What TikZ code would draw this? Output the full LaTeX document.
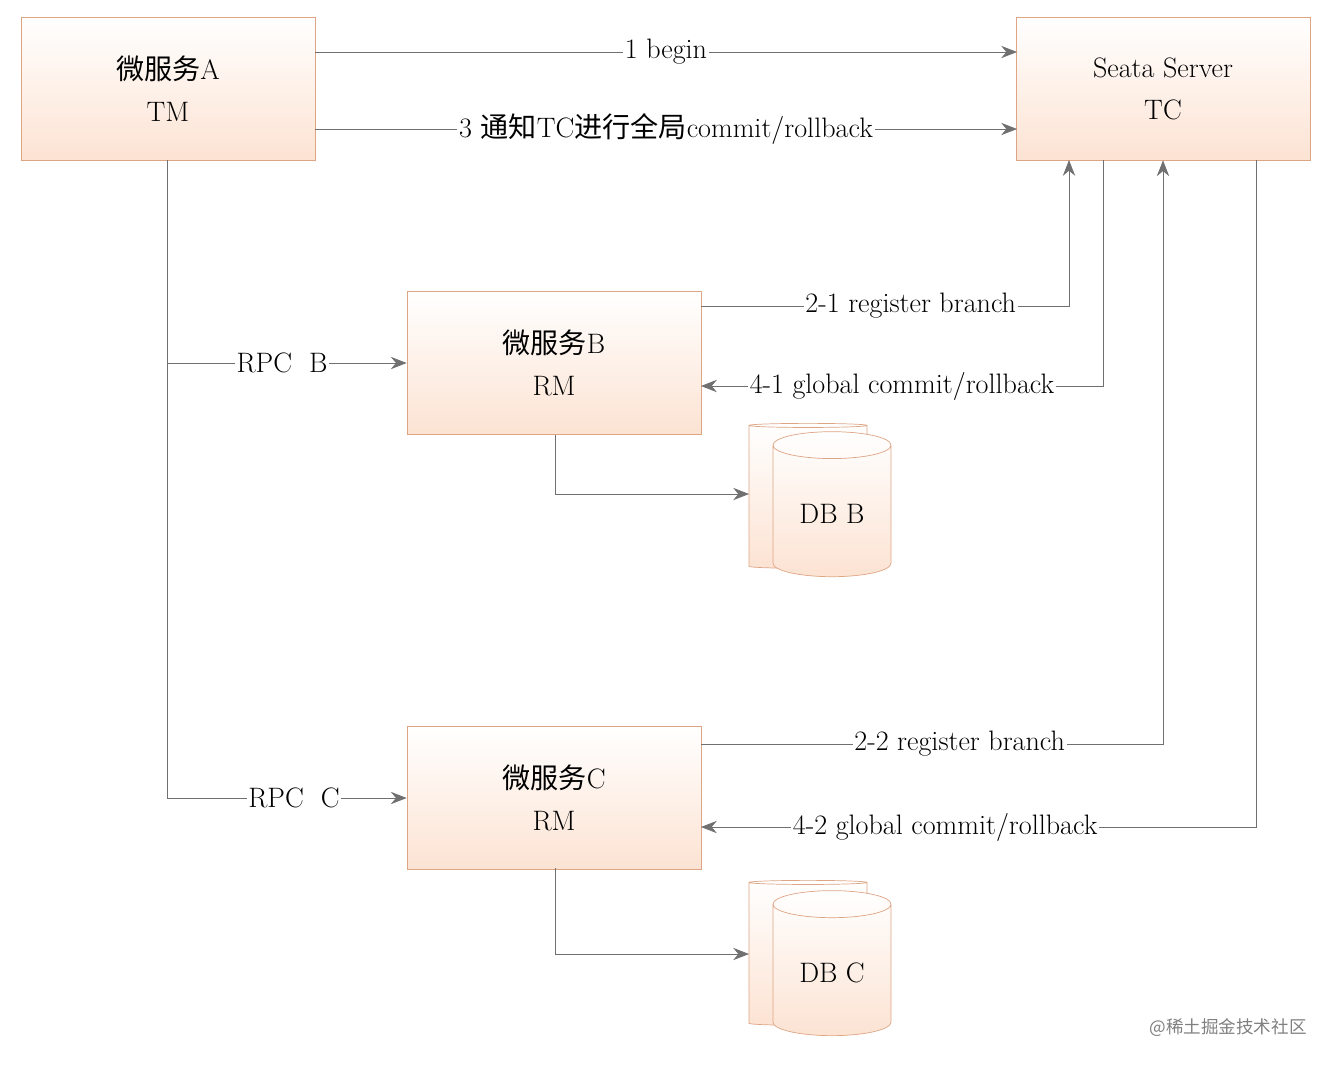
\documentclass[tikz,border=0pt]{standalone}
\usepackage{fontspec}
\newfontfamily\cjk{Noto Sans CJK SC}
\usetikzlibrary{shapes.geometric,arrows.meta}
\definecolor{bd}{HTML}{DDA584}
\definecolor{bt}{HTML}{FCE3D3}
\definecolor{ln}{HTML}{707070}
\begin{document}
\begin{tikzpicture}[x=0.02cm,y=-0.02cm,
 box/.style={draw=bd,top color=white,bottom color=bt,minimum width=294*0.02cm,minimum height=143*0.02cm,align=center,font=\fontsize{16}{24}\selectfont},
 db/.style={cylinder,shape border rotate=90,draw=bd,top color=white,bottom color=bt,minimum width=118*0.02cm,minimum height=145*0.02cm,aspect=0.35,font=\fontsize{16}{18}\selectfont},
 ar/.style={draw=ln,-{Stealth[length=9pt,width=7pt]}},
 lb/.style={fill=white,inner sep=1pt,font=\fontsize{16}{18}\selectfont}]
\useasboundingbox (0,0) rectangle (1334,1066);
\node[box] (A) at (168,88.5) {{\cjk 微服务}A\\TM};
\node[box] (T) at (1163,88.5) {Seata Server\\TC};
\node[box] (B) at (554,363) {{\cjk 微服务}B\\RM};
\node[box] (C) at (554,797.5) {{\cjk 微服务}C\\RM};
\node[db] (bb) at (808,497.5) {};
\node[db] (bf) at (832,514) {DB B};
\node[db] (cb) at (808,954.5) {};
\node[db] (cf) at (832,973) {DB C};
\coordinate (a1) at (315,52); \coordinate (t1) at (1017,52);
\coordinate (a3) at (315,129); \coordinate (t3) at (1017,129);
\draw[ar] (a1) -- node[lb]{1 begin} (t1);
\draw[ar] (a3) -- node[lb]{3 {\cjk 通知}TC{\cjk 进行全局}commit/rollback} (t3);
\coordinate (ab) at (167,160); \coordinate (k1) at (167,363); \coordinate (k2) at (167,798);
\draw[ar] (ab) -- (k1) -- node[lb,pos=0.48]{RPC\ \ B} (B.west);
\draw[ar] (k1) -- (k2) -- node[lb,pos=0.53]{RPC\ \ C} (C.west|-k2);
\coordinate (b21) at (701,306); \coordinate (c21) at (1069,306); \coordinate (t21) at (1069,160);
\draw[ar] (b21) -- node[lb,pos=0.57]{2-1 register branch} (c21) -- (t21);
\coordinate (t41) at (1103,160); \coordinate (c41) at (1103,386); \coordinate (b41) at (701,386);
\draw[ar] (t41) -- (c41) -- node[lb,pos=0.5]{4-1 global commit/rollback} (b41);
\coordinate (b22) at (701,744); \coordinate (c22) at (1163,744);
\draw[ar] (b22) -- node[lb,pos=0.56]{2-2 register branch} (c22) -- (T.south);
\coordinate (t42) at (1256,160); \coordinate (c42) at (1256,827); \coordinate (b42) at (701,827);
\draw[ar] (t42) -- (c42) -- node[lb,pos=0.56]{4-2 global commit/rollback} (b42);
\coordinate (bd1) at (555,435); \coordinate (bd2) at (555,494); \coordinate (bd3) at (749,494);
\draw[ar] (bd1) -- (bd2) -- (bd3);
\coordinate (cd1) at (555,868); \coordinate (cd2) at (555,954); \coordinate (cd3) at (749,954);
\draw[ar] (cd1) -- (cd2) -- (cd3);
\node[text=gray,font=\cjk\fontsize{10}{12}\selectfont] (w) at (1228,1028) {@稀土掘金技术社区};
\end{tikzpicture}
\end{document}
